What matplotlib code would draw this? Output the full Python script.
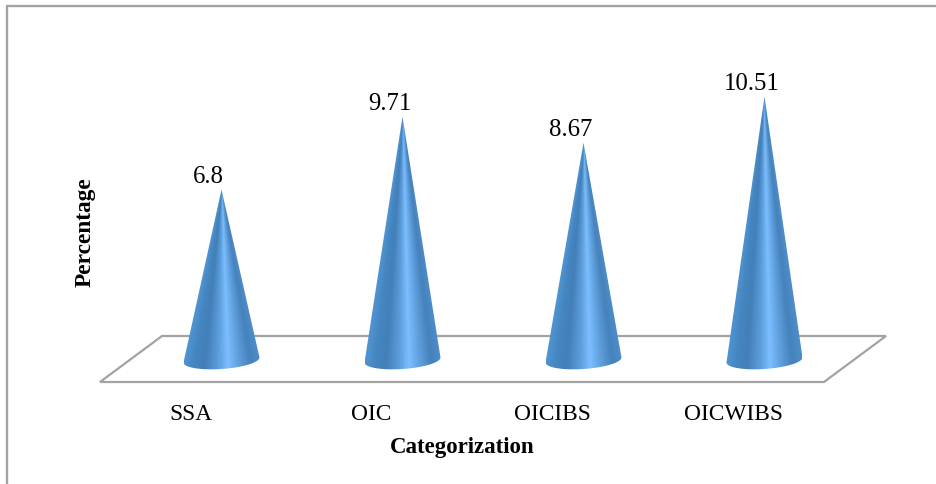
import numpy as np
import matplotlib
matplotlib.use("Agg")
import matplotlib.pyplot as plt
from matplotlib.colors import LinearSegmentedColormap
from matplotlib.lines import Line2D
from matplotlib.patches import Polygon
from matplotlib.transforms import ScaledTranslation

categories = ["SSA", "OIC", "OICIBS", "OICWIBS"]
values = [6.8, 9.71, 8.67, 10.51]
value_labels = ["6.8", "9.71", "8.67", "10.51"]

W, H = 937, 484
DPI = 100
plt.rcParams["font.family"] = ["Liberation Serif", "DejaVu Serif"]

fig = plt.figure(figsize=(W / DPI, H / DPI), dpi=DPI, facecolor="white")
ax = fig.add_axes([100 / W, (H - 382) / H, 724 / W, 322 / H])
ax.set_facecolor("none")
ax.set_xlim(-0.5, 3.5)
ax.set_ylim(0, 322 / 25.07)

for s in ax.spines.values():
    s.set_visible(False)
ax.set_xticks(range(len(categories)), categories, fontsize=16.8)
ax.set_yticks([])
ax.tick_params(axis="x", length=0, pad=15.5)

ax.set_xlabel("Categorization", fontsize=16.5, fontweight="bold")
ax.xaxis.set_label_coords(462 / W, (H - 447) / H, transform=fig.transFigure)
ax.xaxis.label.set_verticalalignment("center")
ax.set_ylabel("Percentage", fontsize=16.8, fontweight="bold")
ax.yaxis.set_label_coords(85 / W, (H - 232) / H, transform=fig.transFigure)
ax.yaxis.label.set_verticalalignment("center")

# Outer frame (top and left only, as cropped in the reference)
GRAY = "#a3a3a3"
fig.add_artist(Line2D([7 / W, 7 / W, 1], [0, (H - 6) / H, (H - 6) / H],
                      transform=fig.transFigure, color=GRAY, lw=1.7))

# Floor: front edge on the axis, back edge shifted by the 3D depth
depth_x, depth_y = 0.62, 0.46
back = ax.transData + ScaledTranslation(depth_x, depth_y, fig.dpi_scale_trans)
mid = ax.transData + ScaledTranslation(depth_x / 2, depth_y / 2 - 0.01, fig.dpi_scale_trans)

to_fig = fig.transFigure.inverted()
x0, x1 = ax.get_xlim()
pts = [ax.transData.transform((x0, 0)), ax.transData.transform((x1, 0)),
       back.transform((x1, 0)), back.transform((x0, 0))]
ax.add_patch(Polygon(to_fig.transform(pts), closed=True, fill=False,
                     edgecolor=GRAY, lw=1.6, transform=fig.transFigure, clip_on=False))

# Cones: the shading converges on the apex, so it is computed per row
cmap = LinearSegmentedColormap.from_list(
    "cone",
    [(0.0, "#4f95d3"), (0.14, "#4586c1"), (0.28, "#437fb8"), (0.45, "#5c9ddb"), (0.58, "#7cbeff"),
     (0.72, "#5f9fdc"), (0.87, "#4682bc"), (1.0, "#4d8dca")],
)
half_w = 38 / 181
ell_h = 9.0 / 25.07
tilt = 2.5 / 25.07

for i, v in enumerate(values):
    t = np.linspace(np.pi, 2 * np.pi, 60)
    ex = i + half_w * np.cos(t)
    ey = ell_h * np.sin(t) + tilt * np.cos(t)
    outline = np.column_stack([np.r_[i, ex], np.r_[v, ey]])
    clip = Polygon(outline, closed=True, transform=mid, fc="none", ec="none", clip_on=False)
    ax.add_patch(clip)

    bottom = -ell_h - tilt
    ys = np.linspace(v, bottom, 400)
    us = np.linspace(-1, 1, 200)
    frac = np.clip(1 - ys / v, 0.002, None)[:, None]
    shade = np.clip(0.5 + us[None, :] / (2 * frac), 0, 1)
    im = ax.imshow(shade, cmap=cmap, vmin=0, vmax=1, aspect="auto", interpolation="bilinear",
                   extent=(i - half_w, i + half_w, bottom, v), origin="upper", zorder=3)
    im.set_transform(mid)
    im.set_clip_path(clip)
    ax.text(i, v, value_labels[i], fontsize=17.8, ha="center", va="bottom", zorder=4,
            transform=ax.transData + ScaledTranslation(0.18, 0.24, fig.dpi_scale_trans))

ax.set_xlim(x0, x1)
ax.set_ylim(0, 322 / 25.07)
fig.savefig("out.png", dpi=DPI)
